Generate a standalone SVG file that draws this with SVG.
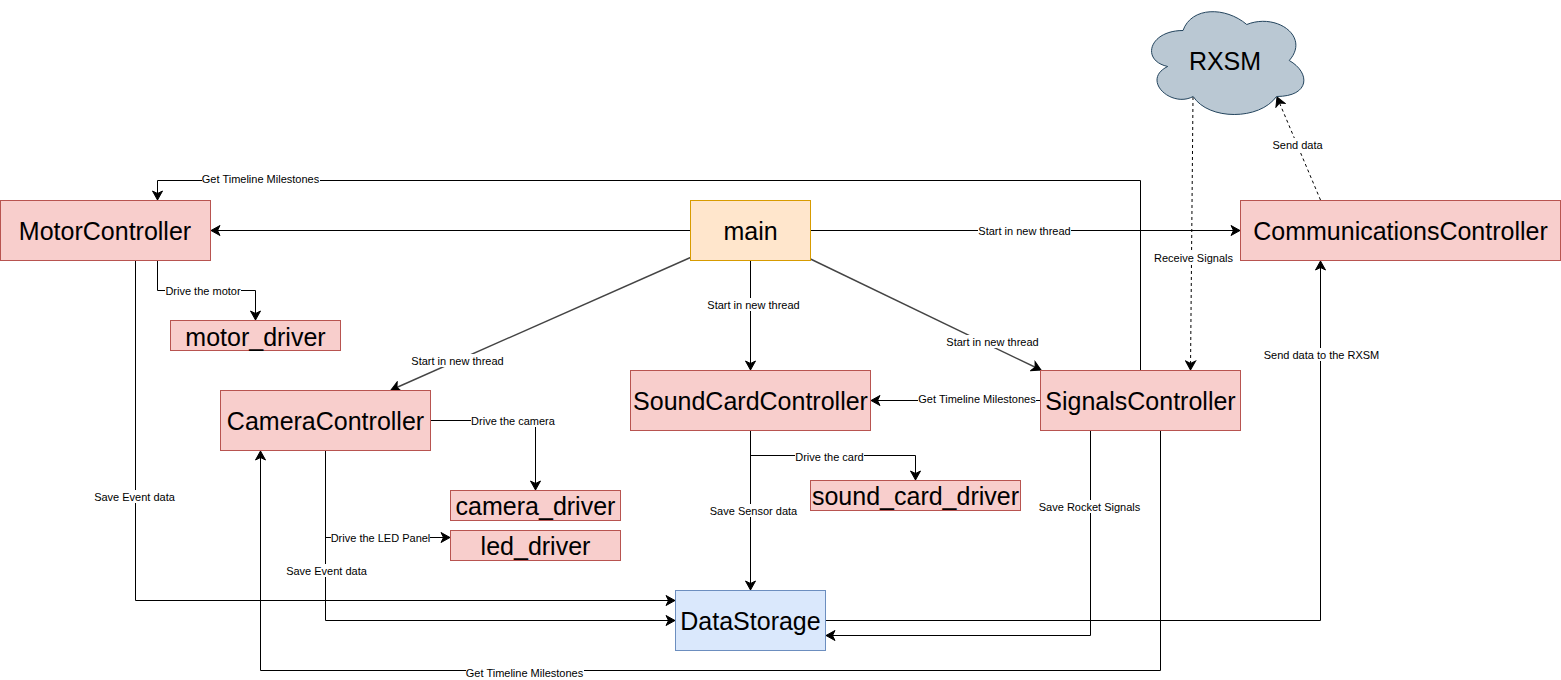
<svg xmlns="http://www.w3.org/2000/svg" width="1561" height="680" viewBox="0 0 1561 680">
<style>
text{font-family:"Liberation Sans",Arial,sans-serif;text-anchor:middle}
.n{font-size:25px;fill:#000}
.l{font-size:11px;fill:#000}
.r rect{fill:#f8cecc;stroke:#b85450;stroke-width:1}
.e path{fill:none;stroke:#000;stroke-width:1;marker-end:url(#a)}
.e path.d{stroke:#444;stroke-width:1.4}
.lb{fill:#fff;stroke:none}
</style>
<defs>
<marker id="a" markerUnits="userSpaceOnUse" markerWidth="12" markerHeight="12" refX="10" refY="5" orient="auto" viewBox="0 0 12 10">
<path d="M1 0L10 5L1 10L3.5 5Z" fill="#000" stroke="#000" stroke-width="1"/>
</marker>
</defs>
<rect width="1561" height="680" fill="#fff"/>
<g id="connectors" class="e">
<path d="M690.5 230.5H211"/>
<path d="M810.5 230.5H1240"/>
<path d="M750.5 260.5V370"/>
<path class="d" d="M690.5 257.5L391 390"/>
<path class="d" d="M810.5 259L1041 370"/>
<path d="M1140.5 370.5V180.5H157.5V200"/>
<path d="M157.5 260.5V290.5H255.5V320"/>
<path d="M135.5 260.5V600.5H675"/>
<path d="M430.5 420.5H535.5V490"/>
<path d="M325.5 450.5V620.5H675"/>
<path d="M325.5 537.5H450"/>
<path d="M1040.5 400.5H871"/>
<path d="M750.5 430.5V590"/>
<path d="M750.5 455.5H915.5V480"/>
<path d="M1090.5 430.5V635.5H826"/>
<path d="M1160.5 430.5V670.5H260.5V451"/>
<path d="M825.5 620.5H1320.5V261"/>
<path d="M1320.5 200L1277 97" stroke-dasharray="3 3"/>
<path d="M1193 97L1190.5 370" stroke-dasharray="3 3"/>
</g>
<g id="edge-labels">
<rect class="lb" x="202" y="174" width="118" height="13"/><text class="l" x="260.5" y="183">Get Timeline Milestones</text>
<rect class="lb" x="165" y="284" width="76" height="13"/><text class="l" x="203" y="295">Drive the motor</text>
<rect class="lb" x="978" y="224" width="93" height="13"/><text class="l" x="1024.5" y="235">Start in new thread</text>
<rect class="lb" x="707" y="298" width="93" height="13"/><text class="l" x="753.5" y="309">Start in new thread</text>
<rect class="lb" x="411" y="354" width="93" height="13"/><text class="l" x="457.5" y="365">Start in new thread</text>
<rect class="lb" x="946" y="335" width="93" height="13"/><text class="l" x="992.5" y="346">Start in new thread</text>
<rect class="lb" x="1154" y="251" width="80" height="13"/><text class="l" x="1193.5" y="262">Receive Signals</text>
<rect class="lb" x="1272" y="138" width="51" height="13"/><text class="l" x="1297.5" y="149">Send data</text>
<rect class="lb" x="1263" y="348" width="117" height="13"/><text class="l" x="1321.5" y="359">Send data to the RXSM</text>
<rect class="lb" x="471" y="414" width="85" height="13"/><text class="l" x="513" y="425">Drive the camera</text>
<rect class="lb" x="918" y="393" width="118" height="13"/><text class="l" x="977" y="403">Get Timeline Milestones</text>
<rect class="lb" x="795" y="450" width="69" height="13"/><text class="l" x="829.5" y="461">Drive the card</text>
<rect class="lb" x="94" y="490" width="82" height="13"/><text class="l" x="134.5" y="501">Save Event data</text>
<rect class="lb" x="1039" y="500" width="102" height="13"/><text class="l" x="1089.5" y="511">Save Rocket Signals</text>
<rect class="lb" x="710" y="504" width="88" height="13"/><text class="l" x="753.5" y="515">Save Sensor data</text>
<rect class="lb" x="331" y="531" width="99" height="13"/><text class="l" x="380.5" y="542">Drive the LED Panel</text>
<rect class="lb" x="286" y="564" width="82" height="13"/><text class="l" x="326.5" y="575">Save Event data</text>
<rect class="lb" x="466" y="666" width="118" height="13"/><text class="l" x="524.5" y="677">Get Timeline Milestones</text>
</g>
<g id="main"><rect x="690.5" y="200.5" width="120" height="60" fill="#ffe6cc" stroke="#d79b00"/><text class="n" x="750.5" y="240">main</text></g>
<g id="MotorController" class="r"><rect x="0.5" y="200.5" width="210" height="60"/><text class="n" x="105" y="240">MotorController</text></g>
<g id="CommunicationsController" class="r"><rect x="1240.5" y="200.5" width="320" height="60"/><text class="n" x="1400.5" y="240">CommunicationsController</text></g>
<g id="motor_driver" class="r"><rect x="170.5" y="320.5" width="170" height="30"/><text class="n" x="255.5" y="346">motor_driver</text></g>
<g id="CameraController" class="r"><rect x="220.5" y="390.5" width="210" height="60"/><text class="n" x="325.5" y="430">CameraController</text></g>
<g id="SoundCardController" class="r"><rect x="630.5" y="370.5" width="240" height="60"/><text class="n" x="750.5" y="410">SoundCardController</text></g>
<g id="SignalsController" class="r"><rect x="1040.5" y="370.5" width="200" height="60"/><text class="n" x="1140.5" y="410">SignalsController</text></g>
<g id="camera_driver" class="r"><rect x="450.5" y="490.5" width="170" height="30"/><text class="n" x="535.5" y="515">camera_driver</text></g>
<g id="led_driver" class="r"><rect x="450.5" y="530.5" width="170" height="30"/><text class="n" x="535.5" y="555">led_driver</text></g>
<g id="sound_card_driver" class="r"><rect x="810.5" y="480.5" width="210" height="30"/><text class="n" x="915.5" y="505">sound_card_driver</text></g>
<g id="DataStorage"><rect x="675.5" y="590.5" width="150" height="60" fill="#dae8fc" stroke="#6c8ebf"/><text class="n" x="750.5" y="630">DataStorage</text></g>
<g id="RXSM"><path d="M1183 30.5C1149 30.5 1140.5 60.5 1167.7 66.5C1140.5 79.7 1171.1 108.5 1193.2 96.5C1208.5 120.5 1259.5 120.5 1276.5 96.5C1310.5 96.5 1310.5 72.5 1289.25 60.5C1310.5 36.5 1276.5 12.5 1246.75 24.5C1225.5 6.5 1191.5 6.5 1183 30.5Z" fill="#bac8d3" stroke="#23445d"/><text class="n" x="1225" y="70">RXSM</text></g>
</svg>
